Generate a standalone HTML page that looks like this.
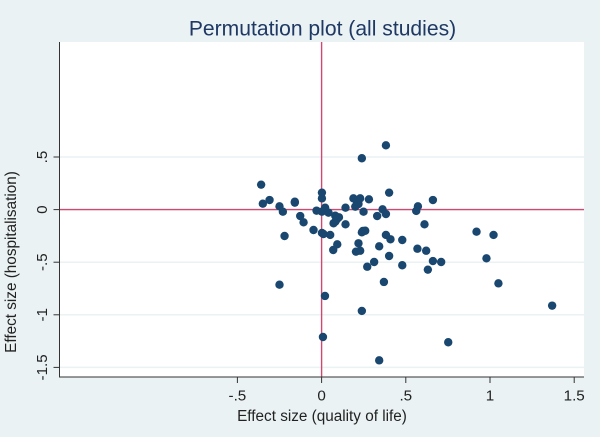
<!DOCTYPE html>
<html lang="en">
<head>
<meta charset="utf-8">
<title>Permutation plot (all studies)</title>
<style>
html,body{margin:0;padding:0;background:#eaf2f3;}
svg{display:block;font-family:"Liberation Sans",Arial,sans-serif;}
</style>
</head>
<body>
<svg id="chart" xmlns="http://www.w3.org/2000/svg" width="600" height="437" viewBox="0 0 600 437"></svg>
<script>
const xValues = [-.359,-.349,-.309,-.25,-.23,-.159,-.159,-.127,-.107,-.22,-.048,.002,.002,-.03,.002,.021,.041,.002,.011,.051,.081,.103,.091,.071,.081,.142,.142,.093,.069,.204,.219,.245,.382,.239,.401,.189,.229,.281,.21,.219,.2,.249,.362,.382,.33,.572,.562,.661,.611,.92,1.021,.259,.239,.382,.409,.479,.342,.229,.569,.621,.401,.979,.661,.71,.312,.271,.479,.631,.37,1.05,-.25,.02,.239,.008,.342,.752,1.369];
const yValues = [.237,.056,.091,.031,-.02,.066,.075,-.061,-.121,-.251,-.194,.161,.107,-.01,-.02,.018,-.029,-.222,-.232,-.241,-.058,-.073,-.092,-.13,-.115,-.14,.018,-.33,-.384,-.4,-.32,-.203,.611,.488,.161,.107,.107,.098,.075,.053,.028,-.02,.003,-.042,-.061,.031,-.013,.091,-.14,-.21,-.241,-.201,-.216,-.241,-.282,-.289,-.349,-.391,-.372,-.391,-.441,-.463,-.489,-.498,-.498,-.543,-.529,-.571,-.688,-.701,-.714,-.821,-.963,-1.211,-1.433,-1.261,-.913];
const xTickValues = [-.5,0,.5,1,1.5];
const xTickLabels = ["-.5","0",".5","1","1.5"];
const yTickValues = [-1.5,-1,-.5,0,.5];
const yTickLabels = ["-1.5","-1","-.5","0",".5"];

const svgNS = "http://www.w3.org/2000/svg";
const svg = document.getElementById("chart");
const plot = {left:60, right:584, top:42, bottom:377};
function xScale(v){ return 321.6 + 168.4 * v; }
function yScale(v){ return 209.6 - 105.2 * v; }
function make(tag, attrs, parent, text){
  const el = document.createElementNS(svgNS, tag);
  for (const k in attrs) el.setAttribute(k, attrs[k]);
  if (text !== undefined) el.textContent = text;
  (parent || svg).appendChild(el);
  return el;
}

const bg = make("rect", {x:0, y:0, width:600, height:437, fill:"#eaf2f3"});



const area = make("rect", {x:plot.left, y:plot.top, width:plot.right-plot.left, height:plot.bottom-plot.top, fill:"#ffffff"});



const title = make("text", {x:322.5, y:35.5, "text-anchor":"middle", "font-size":"21.1", fill:"#1f3864"}, svg, "Permutation plot (all studies)");



yTickValues.forEach(function(v, i){
  const y = yScale(v);
  const grid = make("line", {x1:plot.left, x2:plot.right, y1:y, y2:y, stroke:"#eaf2f3", "stroke-width":"1.5"});
  
  
  const tick = make("line", {x1:53.5, x2:plot.left, y1:y, y2:y, stroke:"#333333", "stroke-width":"1"});
  
  
  const label = make("text", {x:0, y:0, transform:"translate(47 "+y+") rotate(-90)", "text-anchor":"middle", "font-size":"15.2", fill:"#222222"}, svg, yTickLabels[i]);
  
  
});

const hRef = make("line", {x1:plot.left, x2:plot.right, y1:yScale(0), y2:yScale(0), stroke:"#d0486f", "stroke-width":"1.4"});


const vRef = make("line", {x1:xScale(0), x2:xScale(0), y1:plot.top, y2:plot.bottom, stroke:"#d0486f", "stroke-width":"1.4"});



const leftAxis = make("line", {x1:59.5, x2:59.5, y1:plot.top, y2:plot.bottom+.5, stroke:"#333333", "stroke-width":"1"});


const bottomAxis = make("line", {x1:59.5, x2:plot.right, y1:377, y2:377, stroke:"#333333", "stroke-width":"1"});



xTickValues.forEach(function(v, i){
  const x = xScale(v);
  const tick = make("line", {x1:x, x2:x, y1:plot.bottom, y2:plot.bottom+6, stroke:"#333333", "stroke-width":"1"});
  
  
  const label = make("text", {x:x, y:400.5, "text-anchor":"middle", "font-size":"15.2", fill:"#222222"}, svg, xTickLabels[i]);
  
  
});

xValues.forEach(function(v, i){
  const dot = make("circle", {cx:xScale(v), cy:yScale(yValues[i]), r:4.2, fill:"#1a476f"});
  
  
});

const xTitle = make("text", {x:322, y:421, "text-anchor":"middle", "font-size":"15.3", fill:"#222222"}, svg, "Effect size (quality of life)");


const yTitle = make("text", {x:0, y:0, transform:"translate(16 262) rotate(-90)", "text-anchor":"middle", "font-size":"15.3", fill:"#222222"}, svg, "Effect size (hospitalisation)");


</script>
</body>
</html>
